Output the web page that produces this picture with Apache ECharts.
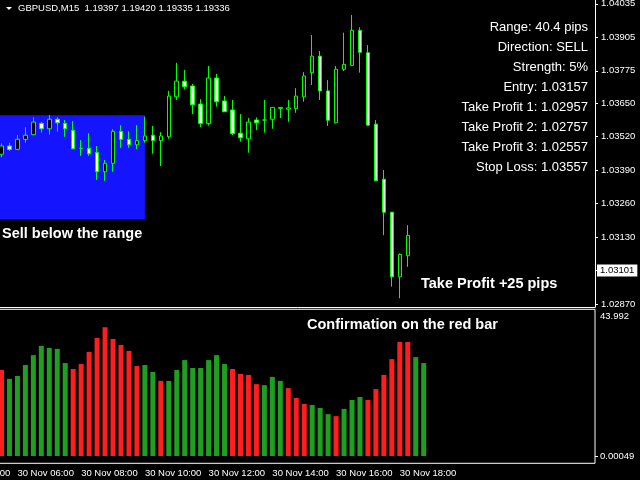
<!DOCTYPE html>
<html>
<head>
<meta charset="utf-8">
<script src="https://cdn.jsdelivr.net/npm/echarts@6/dist/echarts.min.js"></script>
<style>
  html, body { margin: 0; padding: 0; background: #000; }
  #chart { width: 640px; height: 480px; }
</style>
</head>
<body>
<div id="chart"></div>
<script>
// GBPUSD M15, 30 Nov
var tickLabels = ['30 Nov 04:00', '30 Nov 06:00', '30 Nov 08:00', '30 Nov 10:00',
  '30 Nov 12:00', '30 Nov 14:00', '30 Nov 16:00', '30 Nov 18:00'];
var priceTicks = [1.04035, 1.03905, 1.03775, 1.03650, 1.03520, 1.03390, 1.03260, 1.03130, 1.03000, 1.02870];

// [open, close, low, high], first bar = 30 Nov 05:30
var candles = [
  [1.03451, 1.03483, 1.03439, 1.03493], [1.03483, 1.03470, 1.03464, 1.03496],
  [1.03470, 1.03509, 1.03467, 1.03526], [1.03509, 1.03525, 1.03496, 1.03556],
  [1.03527, 1.03576, 1.03525, 1.03594], [1.03571, 1.03550, 1.03535, 1.03576],
  [1.03550, 1.03587, 1.03527, 1.03603], [1.03587, 1.03573, 1.03539, 1.03594],
  [1.03571, 1.03550, 1.03519, 1.03584], [1.03544, 1.03472, 1.03472, 1.03580],
  [1.03474, 1.03474, 1.03445, 1.03506], [1.03474, 1.03453, 1.03445, 1.03533],
  [1.03458, 1.03383, 1.03351, 1.03483], [1.03383, 1.03416, 1.03348, 1.03429],
  [1.03416, 1.03540, 1.03383, 1.03548], [1.03540, 1.03509, 1.03476, 1.03564],
  [1.03509, 1.03488, 1.03476, 1.03540], [1.03488, 1.03504, 1.03471, 1.03564],
  [1.03504, 1.03522, 1.03496, 1.03597], [1.03525, 1.03504, 1.03453, 1.03561],
  [1.03504, 1.03522, 1.03405, 1.03537], [1.03519, 1.03677, 1.03511, 1.03697],
  [1.03674, 1.03735, 1.03662, 1.03806], [1.03735, 1.03713, 1.03703, 1.03778],
  [1.03716, 1.03643, 1.03607, 1.03724], [1.03646, 1.03570, 1.03557, 1.03665],
  [1.03570, 1.03747, 1.03562, 1.03794], [1.03747, 1.03655, 1.03636, 1.03763],
  [1.03658, 1.03616, 1.03616, 1.03677], [1.03623, 1.03531, 1.03525, 1.03662],
  [1.03533, 1.03515, 1.03500, 1.03607], [1.03511, 1.03576, 1.03457, 1.03592],
  [1.03584, 1.03573, 1.03545, 1.03594], [1.03584, 1.03584, 1.03535, 1.03662],
  [1.03587, 1.03633, 1.03550, 1.03633], [1.03629, 1.03633, 1.03592, 1.03633],
  [1.03626, 1.03631, 1.03577, 1.03662], [1.03628, 1.03677, 1.03612, 1.03708],
  [1.03674, 1.03755, 1.03655, 1.03770], [1.03768, 1.03832, 1.03720, 1.03914],
  [1.03832, 1.03697, 1.03662, 1.03852], [1.03697, 1.03583, 1.03561, 1.03739],
  [1.03573, 1.03781, 1.03571, 1.03794], [1.03781, 1.03800, 1.03774, 1.03923],
  [1.03796, 1.03932, 1.03794, 1.03992], [1.03932, 1.03847, 1.03768, 1.03944],
  [1.03845, 1.03564, 1.03564, 1.03875], [1.03568, 1.03348, 1.03348, 1.03584],
  [1.03354, 1.03226, 1.03137, 1.03390], [1.03226, 1.02975, 1.02937, 1.03226],
  [1.02975, 1.03062, 1.02892, 1.03066], [1.03057, 1.03136, 1.03014, 1.03176]
];

// histogram in the sub window, G = green bar, R = red bar
var strength = [26.1, 23.4, 24.3, 27.6, 30.6, 33.4, 32.8, 32.5, 28.2, 26.4,
  27.9, 31.6, 35.8, 39.1, 35.5, 33.7, 31.9, 27.3, 27.6, 25.5,
  22.8, 22.8, 26.1, 29.1, 26.7, 26.7, 29.1, 30.6, 27.9, 26.4,
  24.9, 24.6, 21.8, 21.5, 24.0, 22.8, 20.6, 17.6, 15.8, 15.5,
  14.6, 12.7, 12.1, 14.3, 17.0, 17.9, 17.0, 20.3, 24.6, 29.4,
  34.6, 34.6, 30.0, 28.2];
var strengthDir = 'RGGGGGGGGRRRRRRRRRGGRGGGGGGGGRRRRGGGRRRGGGRGGGRRRRRRGG'.split('');

var rangeHigh = 1.03603;
var rangeLow = 1.03199;
var rangeEndBar = 18;
var bidPrice = 1.03101;

var infoLines = ['Range: 40.4 pips', 'Direction: SELL', 'Strength: 5%', 'Entry: 1.03157',
  'Take Profit 1: 1.02957', 'Take Profit 2: 1.02757', 'Take Profit 3: 1.02557', 'Stop Loss: 1.03557'];

// time slots: 6 empty slots before the first bar so the 04:00 label hangs off the left edge
var leadSlots = 6;
var totalSlots = 81;
function pad(n) { return n < 10 ? '0' + n : '' + n; }
var categories = [];
for (var i = 0; i < totalSlots; i++) {
  var m = 4 * 60 + i * 15;
  categories.push('30 Nov ' + pad(Math.floor(m / 60) % 24) + ':' + pad(m % 60));
}

var candleData = [];
var barData = [];
for (var i = 0; i < leadSlots; i++) {
  candleData.push(['-', '-', '-', '-']);
  barData.push('-');
}
candles.forEach(function (c) { candleData.push(c); });
strength.forEach(function (v, i) {
  barData.push({ value: v, itemStyle: { color: strengthDir[i] === 'G' ? '#1f9f1f' : '#ff1e1e' } });
});

var FONT = 'Liberation Sans';
var gridLeft = -50.3;

var graphics = [
  { type: 'polygon', shape: { points: [[6, 7], [12, 7], [9, 10]] }, style: { fill: '#fff' } },
  { type: 'text', style: { text: 'GBPUSD,M15  1.19397 1.19420 1.19335 1.19336', x: 18, y: 8,
      fill: '#fff', font: '9.5px "' + FONT + '"', verticalAlign: 'middle' } },
  { type: 'text', style: { text: 'Sell below the range', x: 2, y: 234,
      fill: '#fff', font: 'bold 14.5px "' + FONT + '"', verticalAlign: 'middle' } },
  { type: 'text', style: { text: 'Take Profit +25 pips', x: 421, y: 284,
      fill: '#fff', font: 'bold 14.5px "' + FONT + '"', verticalAlign: 'middle' } },
  { type: 'text', style: { text: 'Confirmation on the red bar', x: 307, y: 325,
      fill: '#fff', font: 'bold 14.5px "' + FONT + '"', verticalAlign: 'middle' } }
];
infoLines.forEach(function (t, i) {
  graphics.push({ type: 'text', style: { text: t, x: 588, y: 27.5 + i * 20,
    fill: '#fff', font: '13px "' + FONT + '"', align: 'right', verticalAlign: 'middle' } });
});

var chart = echarts.init(document.getElementById('chart'));
chart.setOption({
  backgroundColor: '#000',
  animation: false,
  graphic: graphics,
  grid: [
    { left: gridLeft, right: 45, top: 0, height: 307, outerBoundsMode: 'none', containLabel: false },
    { left: gridLeft, right: 45, top: 309.3, height: 154, outerBoundsMode: 'none', containLabel: false,
      show: true, borderColor: '#fff', borderWidth: 1, backgroundColor: 'transparent' }
  ],
  xAxis: [
    { type: 'category', gridIndex: 0, data: categories, boundaryGap: true,
      axisLine: { lineStyle: { color: '#fff', width: 1 } },
      axisTick: { show: false }, axisLabel: { show: false }, splitLine: { show: false } },
    { type: 'category', gridIndex: 1, data: categories, boundaryGap: true,
      axisLine: { show: false },
      axisTick: { alignWithLabel: true, length: 3, lineStyle: { color: '#fff' },
        interval: function (idx, name) { return tickLabels.indexOf(name) >= 0; } },
      axisLabel: { color: '#fff', fontFamily: FONT, fontSize: 9.5, align: 'left', margin: 5,
        hideOverlap: false,
        interval: function (idx, name) { return tickLabels.indexOf(name) >= 0; } },
      splitLine: { show: false } }
  ],
  yAxis: [
    { type: 'value', gridIndex: 0, position: 'right', min: 1.02858, max: 1.04050,
      axisLine: { show: true, lineStyle: { color: '#fff' } },
      axisTick: { show: true, length: 3, lineStyle: { color: '#fff' }, customValues: priceTicks },
      axisLabel: { color: '#fff', fontFamily: FONT, fontSize: 9.5, margin: 6,
        customValues: priceTicks, formatter: function (v) { return v.toFixed(5); } },
      splitLine: { show: false } },
    { type: 'value', gridIndex: 1, position: 'right', min: -2.21, max: 44.51,
      axisLine: { show: false },
      axisTick: { show: true, length: 3, lineStyle: { color: '#fff' }, customValues: [0] },
      axisLabel: { color: '#fff', fontFamily: FONT, fontSize: 9.5, margin: 5,
        customValues: [0, 42.26], formatter: function (v) { return v === 0 ? '0.00049' : '43.992'; } },
      splitLine: { show: false } }
  ],
  series: [
    {
      name: 'GBPUSD', type: 'candlestick', xAxisIndex: 0, yAxisIndex: 0,
      data: candleData, barWidth: 4,
      itemStyle: { color: '#000000', color0: '#ffffff', borderColor: '#00ff00',
        borderColor0: '#00ff00', borderColorDoji: '#00ff00', borderWidth: 1 },
      markArea: {
        silent: true,
        itemStyle: { color: '#1414ff', opacity: 1 },
        data: [[{ xAxis: categories[0], yAxis: rangeHigh },
          { xAxis: categories[leadSlots + rangeEndBar], yAxis: rangeLow }]]
      },
      markLine: {
        silent: true, symbol: 'none',
        lineStyle: { color: 'rgba(0,0,0,0)', width: 1, type: 'solid' },
        label: { show: true, position: 'end', distance: 2, formatter: bidPrice.toFixed(5),
          color: '#000', backgroundColor: '#fff', padding: [1, 3, 1, 3],
          fontFamily: FONT, fontSize: 9.5 },
        data: [{ yAxis: bidPrice }]
      }
    },
    {
      name: 'strength', type: 'bar', xAxisIndex: 1, yAxisIndex: 1,
      data: barData, barWidth: 5
    }
  ]
});
</script>
</body>
</html>
